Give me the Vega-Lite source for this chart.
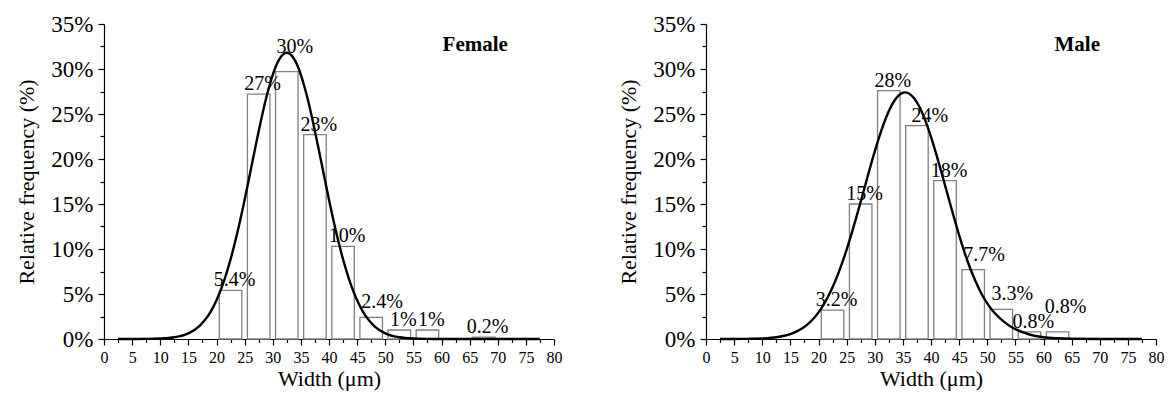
{
  "$schema": "https://vega.github.io/schema/vega-lite/v6.json",
  "padding": {"left": 15, "top": 13, "right": 5, "bottom": 5},
  "background": "white",
  "config": {
    "font": "Liberation Serif",
    "view": {"stroke": null},
    "text": {"font": "Liberation Serif"},
    "axis": {
      "grid": false,
      "domainColor": "black",
      "domainWidth": 1.2,
      "tickColor": "black",
      "tickWidth": 1.2,
      "labelColor": "black",
      "titleColor": "black",
      "labelFont": "Liberation Serif",
      "titleFont": "Liberation Serif",
      "titleFontWeight": "normal",
      "labelFlush": false,
      "labelOverlap": false,
      "labelBound": false
    },
    "axisX": {"labelFontSize": 16, "titleFontSize": 22, "labelPadding": 4, "titlePadding": 3},
    "axisY": {"labelFontSize": 23, "titleFontSize": 22, "labelPadding": 5, "titlePadding": 12}
  },
  "data": {
    "values": [
      {"sex": "Female", "kind": "bar", "lo": 20, "hi": 25, "pct": 5.4, "label": "5.4%"},
      {"sex": "Female", "kind": "bar", "lo": 25, "hi": 30, "pct": 27.2, "label": "27%"},
      {"sex": "Female", "kind": "bar", "lo": 30, "hi": 35, "pct": 29.7, "label": "30%"},
      {"sex": "Female", "kind": "bar", "lo": 35, "hi": 40, "pct": 22.7, "label": "23%"},
      {"sex": "Female", "kind": "bar", "lo": 40, "hi": 45, "pct": 10.3, "label": "10%"},
      {"sex": "Female", "kind": "bar", "lo": 45, "hi": 50, "pct": 2.4, "label": "2.4%"},
      {"sex": "Female", "kind": "bar", "lo": 50, "hi": 55, "pct": 1.0, "label": "1%"},
      {"sex": "Female", "kind": "bar", "lo": 55, "hi": 60, "pct": 1.0, "label": "1%"},
      {"sex": "Female", "kind": "bar", "lo": 65, "hi": 70, "pct": 0.2, "label": "0.2%"},
      {"sex": "Male", "kind": "bar", "lo": 20, "hi": 25, "pct": 3.2, "label": "3.2%"},
      {"sex": "Male", "kind": "bar", "lo": 25, "hi": 30, "pct": 15.0, "label": "15%"},
      {"sex": "Male", "kind": "bar", "lo": 30, "hi": 35, "pct": 27.6, "label": "28%"},
      {"sex": "Male", "kind": "bar", "lo": 35, "hi": 40, "pct": 23.7, "label": "24%"},
      {"sex": "Male", "kind": "bar", "lo": 40, "hi": 45, "pct": 17.6, "label": "18%"},
      {"sex": "Male", "kind": "bar", "lo": 45, "hi": 50, "pct": 7.7, "label": "7.7%"},
      {"sex": "Male", "kind": "bar", "lo": 50, "hi": 55, "pct": 3.3, "label": "3.3%"},
      {"sex": "Male", "kind": "bar", "lo": 55, "hi": 60, "pct": 0.8, "label": "0.8%"},
      {"sex": "Male", "kind": "bar", "lo": 60, "hi": 65, "pct": 0.8, "label": "0.8%"},
      {"sex": "Female", "kind": "curve", "w": 2.5, "f": 0},
      {"sex": "Female", "kind": "curve", "w": 5, "f": 0.002},
      {"sex": "Female", "kind": "curve", "w": 7.5, "f": 0.011},
      {"sex": "Female", "kind": "curve", "w": 10, "f": 0.049},
      {"sex": "Female", "kind": "curve", "w": 12.5, "f": 0.19},
      {"sex": "Female", "kind": "curve", "w": 15, "f": 0.63},
      {"sex": "Female", "kind": "curve", "w": 17, "f": 1.47},
      {"sex": "Female", "kind": "curve", "w": 18, "f": 2.16},
      {"sex": "Female", "kind": "curve", "w": 19, "f": 3.08},
      {"sex": "Female", "kind": "curve", "w": 20, "f": 4.3},
      {"sex": "Female", "kind": "curve", "w": 21, "f": 5.85},
      {"sex": "Female", "kind": "curve", "w": 22, "f": 7.76},
      {"sex": "Female", "kind": "curve", "w": 23, "f": 10.02},
      {"sex": "Female", "kind": "curve", "w": 24, "f": 12.61},
      {"sex": "Female", "kind": "curve", "w": 25, "f": 15.48},
      {"sex": "Female", "kind": "curve", "w": 26, "f": 18.51},
      {"sex": "Female", "kind": "curve", "w": 27, "f": 21.59},
      {"sex": "Female", "kind": "curve", "w": 28, "f": 24.54},
      {"sex": "Female", "kind": "curve", "w": 29, "f": 27.19},
      {"sex": "Female", "kind": "curve", "w": 30, "f": 29.36},
      {"sex": "Female", "kind": "curve", "w": 31, "f": 30.9},
      {"sex": "Female", "kind": "curve", "w": 32, "f": 31.7},
      {"sex": "Female", "kind": "curve", "w": 32.5, "f": 31.8},
      {"sex": "Female", "kind": "curve", "w": 33, "f": 31.7},
      {"sex": "Female", "kind": "curve", "w": 34, "f": 30.9},
      {"sex": "Female", "kind": "curve", "w": 35, "f": 29.36},
      {"sex": "Female", "kind": "curve", "w": 36, "f": 27.19},
      {"sex": "Female", "kind": "curve", "w": 37, "f": 24.54},
      {"sex": "Female", "kind": "curve", "w": 38, "f": 21.59},
      {"sex": "Female", "kind": "curve", "w": 39, "f": 18.51},
      {"sex": "Female", "kind": "curve", "w": 40, "f": 15.48},
      {"sex": "Female", "kind": "curve", "w": 41, "f": 12.61},
      {"sex": "Female", "kind": "curve", "w": 42, "f": 10.02},
      {"sex": "Female", "kind": "curve", "w": 43, "f": 7.76},
      {"sex": "Female", "kind": "curve", "w": 44, "f": 5.85},
      {"sex": "Female", "kind": "curve", "w": 45, "f": 4.3},
      {"sex": "Female", "kind": "curve", "w": 46, "f": 3.08},
      {"sex": "Female", "kind": "curve", "w": 47, "f": 2.16},
      {"sex": "Female", "kind": "curve", "w": 48, "f": 1.47},
      {"sex": "Female", "kind": "curve", "w": 50, "f": 0.63},
      {"sex": "Female", "kind": "curve", "w": 52.5, "f": 0.19},
      {"sex": "Female", "kind": "curve", "w": 55, "f": 0.049},
      {"sex": "Female", "kind": "curve", "w": 57.5, "f": 0.011},
      {"sex": "Female", "kind": "curve", "w": 60, "f": 0.002},
      {"sex": "Female", "kind": "curve", "w": 65, "f": 0},
      {"sex": "Female", "kind": "curve", "w": 70, "f": 0},
      {"sex": "Female", "kind": "curve", "w": 77.5, "f": 0},
      {"sex": "Male", "kind": "curve", "w": 2.5, "f": 0.001},
      {"sex": "Male", "kind": "curve", "w": 5, "f": 0.005},
      {"sex": "Male", "kind": "curve", "w": 7.5, "f": 0.018},
      {"sex": "Male", "kind": "curve", "w": 10, "f": 0.064},
      {"sex": "Male", "kind": "curve", "w": 12.5, "f": 0.2},
      {"sex": "Male", "kind": "curve", "w": 15, "f": 0.55},
      {"sex": "Male", "kind": "curve", "w": 17, "f": 1.14},
      {"sex": "Male", "kind": "curve", "w": 18, "f": 1.6},
      {"sex": "Male", "kind": "curve", "w": 19, "f": 2.19},
      {"sex": "Male", "kind": "curve", "w": 20, "f": 2.96},
      {"sex": "Male", "kind": "curve", "w": 21, "f": 3.91},
      {"sex": "Male", "kind": "curve", "w": 22, "f": 5.08},
      {"sex": "Male", "kind": "curve", "w": 23, "f": 6.47},
      {"sex": "Male", "kind": "curve", "w": 24, "f": 8.1},
      {"sex": "Male", "kind": "curve", "w": 25, "f": 9.93},
      {"sex": "Male", "kind": "curve", "w": 26, "f": 11.96},
      {"sex": "Male", "kind": "curve", "w": 27, "f": 14.13},
      {"sex": "Male", "kind": "curve", "w": 28, "f": 16.39},
      {"sex": "Male", "kind": "curve", "w": 29, "f": 18.66},
      {"sex": "Male", "kind": "curve", "w": 30, "f": 20.84},
      {"sex": "Male", "kind": "curve", "w": 31, "f": 22.85},
      {"sex": "Male", "kind": "curve", "w": 32, "f": 24.59},
      {"sex": "Male", "kind": "curve", "w": 33, "f": 25.96},
      {"sex": "Male", "kind": "curve", "w": 34, "f": 26.9},
      {"sex": "Male", "kind": "curve", "w": 35, "f": 27.36},
      {"sex": "Male", "kind": "curve", "w": 35.4, "f": 27.4},
      {"sex": "Male", "kind": "curve", "w": 36, "f": 27.31},
      {"sex": "Male", "kind": "curve", "w": 37, "f": 26.75},
      {"sex": "Male", "kind": "curve", "w": 38, "f": 25.72},
      {"sex": "Male", "kind": "curve", "w": 39, "f": 24.26},
      {"sex": "Male", "kind": "curve", "w": 40, "f": 22.47},
      {"sex": "Male", "kind": "curve", "w": 41, "f": 20.41},
      {"sex": "Male", "kind": "curve", "w": 42, "f": 18.2},
      {"sex": "Male", "kind": "curve", "w": 43, "f": 15.93},
      {"sex": "Male", "kind": "curve", "w": 44, "f": 13.69},
      {"sex": "Male", "kind": "curve", "w": 45, "f": 11.54},
      {"sex": "Male", "kind": "curve", "w": 46, "f": 9.55},
      {"sex": "Male", "kind": "curve", "w": 47, "f": 7.8},
      {"sex": "Male", "kind": "curve", "w": 48, "f": 6.3},
      {"sex": "Male", "kind": "curve", "w": 49, "f": 5.0},
      {"sex": "Male", "kind": "curve", "w": 50, "f": 3.95},
      {"sex": "Male", "kind": "curve", "w": 51, "f": 3.1},
      {"sex": "Male", "kind": "curve", "w": 52, "f": 2.45},
      {"sex": "Male", "kind": "curve", "w": 53, "f": 1.9},
      {"sex": "Male", "kind": "curve", "w": 54, "f": 1.45},
      {"sex": "Male", "kind": "curve", "w": 55, "f": 1.1},
      {"sex": "Male", "kind": "curve", "w": 57.5, "f": 0.5},
      {"sex": "Male", "kind": "curve", "w": 60, "f": 0.2},
      {"sex": "Male", "kind": "curve", "w": 62.5, "f": 0.08},
      {"sex": "Male", "kind": "curve", "w": 65, "f": 0.03},
      {"sex": "Male", "kind": "curve", "w": 70, "f": 0.005},
      {"sex": "Male", "kind": "curve", "w": 77.5, "f": 0}
    ]
  },
  "facet": {
    "column": {
      "field": "sex",
      "type": "nominal",
      "sort": ["Female", "Male"],
      "header": {"title": null, "labels": false}
    }
  },
  "spacing": 152,
  "bounds": "flush",
  "resolve": {"axis": {"y": "independent", "x": "independent"}},
  "spec": {
    "width": 450,
    "height": 315,
    "encoding": {
      "x": {
        "type": "quantitative",
        "scale": {"domain": [0, 80], "nice": false, "zero": false},
        "title": "Width (μm)",
        "axis": {
          "values": [0, 2.5, 5, 7.5, 10, 12.5, 15, 17.5, 20, 22.5, 25, 27.5, 30, 32.5, 35, 37.5, 40, 42.5, 45, 47.5, 50, 52.5, 55, 57.5, 60, 62.5, 65, 67.5, 70, 72.5, 75, 77.5, 80],
          "labelExpr": "datum.value % 5 === 0 ? datum.label : ''",
          "labelFont": "Liberation Serif",
          "titleFont": "Liberation Serif",
          "tickSize": {"condition": {"test": "datum.value % 5 !== 0", "value": 3.5}, "value": 6}
        }
      },
      "y": {
        "type": "quantitative",
        "scale": {"domain": [0, 35], "nice": false},
        "title": "Relative frequency (%)",
        "axis": {
          "values": [0, 2.5, 5, 7.5, 10, 12.5, 15, 17.5, 20, 22.5, 25, 27.5, 30, 32.5, 35],
          "labelExpr": "datum.value % 5 === 0 ? datum.value + '%' : ''",
          "labelFont": "Liberation Serif",
          "titleFont": "Liberation Serif",
          "tickSize": {"condition": {"test": "datum.value % 5 !== 0", "value": 4}, "value": 6}
        }
      }
    },
    "layer": [
      {
        "transform": [{"filter": "datum.kind === 'bar'"}],
        "mark": {"type": "bar", "fill": "white", "stroke": "#808080", "strokeWidth": 1.3, "xOffset": 2.8, "x2Offset": -2.8},
        "encoding": {
          "x": {"field": "lo"},
          "x2": {"field": "hi"},
          "y": {"field": "pct"},
          "y2": {"datum": 0}
        }
      },
      {
        "transform": [
          {"filter": "datum.kind === 'bar'"},
          {"filter": "!((datum.sex === 'Female' && (datum.lo === 45 || datum.lo === 30)) || (datum.sex === 'Male' && (datum.lo === 35 || datum.lo === 45 || datum.lo === 50 || datum.lo === 60)))"}
        ],
        "mark": {"type": "text", "font": "Liberation Serif", "fontSize": 20, "color": "black", "align": "center", "baseline": "alphabetic", "dx": 18, "dy": -4},
        "encoding": {
          "x": {"field": "lo"},
          "y": {"field": "pct"},
          "text": {"field": "label"}
        }
      },
      {
        "transform": [
          {"filter": "datum.kind === 'bar'"},
          {"filter": "(datum.sex === 'Female' && datum.lo === 45) || (datum.sex === 'Male' && (datum.lo === 45 || datum.lo === 50))"}
        ],
        "mark": {"type": "text", "font": "Liberation Serif", "fontSize": 20, "color": "black", "align": "center", "baseline": "alphabetic", "dx": 25, "dy": -9},
        "encoding": {
          "x": {"field": "lo"},
          "y": {"field": "pct"},
          "text": {"field": "label"}
        }
      },
      {
        "transform": [
          {"filter": "datum.kind === 'bar'"},
          {"filter": "(datum.sex === 'Female' && datum.lo === 30) || (datum.sex === 'Male' && datum.lo === 60)"}
        ],
        "mark": {"type": "text", "font": "Liberation Serif", "fontSize": 20, "color": "black", "align": "center", "baseline": "alphabetic", "dx": 22, "dy": -19},
        "encoding": {
          "x": {"field": "lo"},
          "y": {"field": "pct"},
          "text": {"field": "label"}
        }
      },
      {
        "transform": [
          {"filter": "datum.kind === 'bar'"},
          {"filter": "datum.sex === 'Male' && datum.lo === 35"}
        ],
        "mark": {"type": "text", "font": "Liberation Serif", "fontSize": 20, "color": "black", "align": "center", "baseline": "alphabetic", "dx": 27, "dy": -4},
        "encoding": {
          "x": {"field": "lo"},
          "y": {"field": "pct"},
          "text": {"field": "label"}
        }
      },
      {
        "transform": [{"filter": "datum.kind === 'curve'"}],
        "mark": {"type": "line", "color": "black", "strokeWidth": 2.4, "interpolate": "monotone"},
        "encoding": {
          "x": {"field": "w"},
          "y": {"field": "f"},
          "order": {"field": "w", "type": "quantitative"}
        }
      },
      {
        "transform": [
          {"filter": "datum.kind === 'bar'"},
          {"aggregate": [{"op": "count", "as": "n"}], "groupby": ["sex"]}
        ],
        "mark": {"type": "text", "font": "Liberation Serif", "fontSize": 21, "fontWeight": "bold", "color": "black", "align": "center", "baseline": "alphabetic"},
        "encoding": {
          "x": {"datum": 66},
          "y": {"datum": 32},
          "text": {"field": "sex"}
        }
      }
    ]
  }
}
